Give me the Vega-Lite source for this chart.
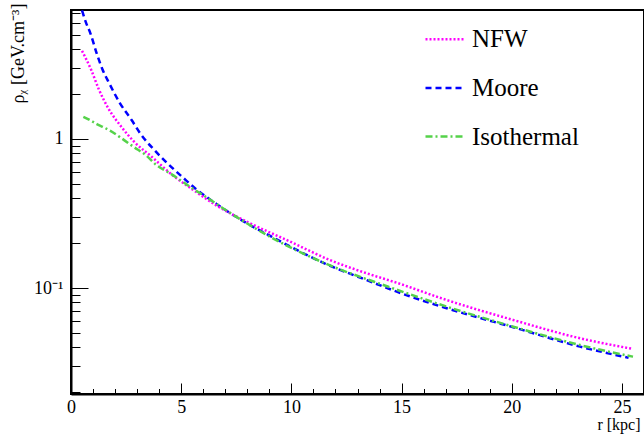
{
  "$schema": "https://vega.github.io/schema/vega-lite/v6.json",
  "autosize": "none",
  "width": 573,
  "height": 384,
  "padding": {"left": 71, "top": 10, "right": 0, "bottom": 41},
  "background": "white",
  "config": {
    "font": "Liberation Serif, Times New Roman, Times, serif",
    "view": {"stroke": "black", "strokeWidth": 2},
    "axis": {"grid": false, "tickColor": "black", "domainColor": "black", "labelColor": "black", "titleColor": "black", "labelFont": "Liberation Serif, Times New Roman, Times, serif", "titleFont": "Liberation Serif, Times New Roman, Times, serif", "titleFontWeight": "normal"},
    "legend": {"labelFont": "Liberation Serif, Times New Roman, Times, serif"}
  },
  "data": {"values": [
    {"model": "Moore", "r": 0.5, "rho": 7.3},
    {"model": "Moore", "r": 0.68, "rho": 6.04},
    {"model": "Moore", "r": 0.88, "rho": 5.12},
    {"model": "Moore", "r": 1.18, "rho": 3.7},
    {"model": "Moore", "r": 1.42, "rho": 2.95},
    {"model": "Moore", "r": 1.72, "rho": 2.39},
    {"model": "Moore", "r": 2.21, "rho": 1.75},
    {"model": "Moore", "r": 2.75, "rho": 1.34},
    {"model": "Moore", "r": 3.16, "rho": 1.08},
    {"model": "Moore", "r": 3.78, "rho": 0.844},
    {"model": "Moore", "r": 4.57, "rho": 0.645},
    {"model": "Moore", "r": 5.07, "rho": 0.553},
    {"model": "Moore", "r": 5.6, "rho": 0.471},
    {"model": "Moore", "r": 6.4, "rho": 0.384},
    {"model": "Moore", "r": 7.59, "rho": 0.294},
    {"model": "Moore", "r": 9.1, "rho": 0.221},
    {"model": "Moore", "r": 11.52, "rho": 0.146},
    {"model": "Moore", "r": 13.42, "rho": 0.113},
    {"model": "Moore", "r": 14.78, "rho": 0.0945},
    {"model": "Moore", "r": 17.05, "rho": 0.0731},
    {"model": "Moore", "r": 20.07, "rho": 0.0545},
    {"model": "Moore", "r": 23.1, "rho": 0.0404},
    {"model": "Moore", "r": 25.3, "rho": 0.034},
    {"model": "NFW", "r": 0.5, "rho": 3.9},
    {"model": "NFW", "r": 0.92, "rho": 2.9},
    {"model": "NFW", "r": 1.26, "rho": 2.16},
    {"model": "NFW", "r": 1.69, "rho": 1.61},
    {"model": "NFW", "r": 2.3, "rho": 1.2},
    {"model": "NFW", "r": 2.86, "rho": 0.96},
    {"model": "NFW", "r": 3.66, "rho": 0.76},
    {"model": "NFW", "r": 4.64, "rho": 0.567},
    {"model": "NFW", "r": 5.55, "rho": 0.455},
    {"model": "NFW", "r": 6.61, "rho": 0.357},
    {"model": "NFW", "r": 7.97, "rho": 0.279},
    {"model": "NFW", "r": 9.94, "rho": 0.205},
    {"model": "NFW", "r": 11.75, "rho": 0.154},
    {"model": "NFW", "r": 13.42, "rho": 0.1255},
    {"model": "NFW", "r": 14.85, "rho": 0.1076},
    {"model": "NFW", "r": 17.05, "rho": 0.083},
    {"model": "NFW", "r": 20.07, "rho": 0.061},
    {"model": "NFW", "r": 23.1, "rho": 0.046},
    {"model": "NFW", "r": 25.5, "rho": 0.039},
    {"model": "Isothermal", "r": 0.56, "rho": 1.41},
    {"model": "Isothermal", "r": 0.86, "rho": 1.34},
    {"model": "Isothermal", "r": 1.17, "rho": 1.26},
    {"model": "Isothermal", "r": 1.47, "rho": 1.2},
    {"model": "Isothermal", "r": 1.77, "rho": 1.137},
    {"model": "Isothermal", "r": 2.3, "rho": 1.01},
    {"model": "Isothermal", "r": 2.83, "rho": 0.888},
    {"model": "Isothermal", "r": 3.4, "rho": 0.778},
    {"model": "Isothermal", "r": 3.89, "rho": 0.666},
    {"model": "Isothermal", "r": 4.49, "rho": 0.589},
    {"model": "Isothermal", "r": 5.55, "rho": 0.462},
    {"model": "Isothermal", "r": 6.11, "rho": 0.41},
    {"model": "Isothermal", "r": 7.14, "rho": 0.325},
    {"model": "Isothermal", "r": 9.0, "rho": 0.222},
    {"model": "Isothermal", "r": 11.5, "rho": 0.147},
    {"model": "Isothermal", "r": 14.4, "rho": 0.102},
    {"model": "Isothermal", "r": 17.05, "rho": 0.075},
    {"model": "Isothermal", "r": 20.07, "rho": 0.055},
    {"model": "Isothermal", "r": 23.1, "rho": 0.0414},
    {"model": "Isothermal", "r": 25.5, "rho": 0.0346}
  ]},
  "layer": [
    {
      "mark": {"type": "line", "interpolate": "monotone", "strokeWidth": 2.5, "clip": true},
      "encoding": {
        "x": {"field": "r", "type": "quantitative",
          "scale": {"domain": [0, 26], "nice": false, "zero": false},
          "axis": {"orient": "bottom", "values": [0, 5, 10, 15, 20, 25], "labelFlush": false, "tickSize": -11, "labelPadding": 15, "labelFontSize": 18, "domainWidth": 2, "tickWidth": 1,
            "title": "r  [kpc]", "titleFontSize": 16, "titleAnchor": "end", "titleAlign": "right", "titleX": 569, "titleY": 30, "titleBaseline": "middle"}},
        "y": {"field": "rho", "type": "quantitative",
          "scale": {"type": "log", "domain": [0.01944, 7.34], "nice": false},
          "axis": {"orient": "left", "values": [0.1, 1], "labelFlush": false, "labelExpr": "datum.value == 1 ? '1' : '10⁻¹'", "tickSize": -17, "labelPadding": 25, "labelFontSize": 18, "domainWidth": 2, "tickWidth": 1,
            "title": "ρᵪ  [GeV.cm⁻³]", "titleFontSize": 18, "titleAngle": -90, "titleAlign": "right", "titleBaseline": "middle", "titleX": -53, "titleY": -7}},
        "color": {"field": "model", "type": "nominal",
          "scale": {"domain": ["NFW", "Moore", "Isothermal"], "range": ["#ff00ff", "#0000ff", "#55d24a"]},
          "legend": {"orient": "none", "legendX": 353, "legendY": 8.7, "title": null, "symbolType": "stroke", "symbolSize": 1444, "symbolStrokeWidth": 2.5, "labelFontSize": 25, "labelOffset": 7, "rowPadding": 14.7, "labelColor": "black"}},
        "strokeDash": {"field": "model", "type": "nominal",
          "scale": {"domain": ["NFW", "Moore", "Isothermal"], "range": [[2, 2], [6, 4], [7, 3, 2, 3]]},
          "legend": {"orient": "none", "legendX": 353, "legendY": 8.7, "title": null, "symbolType": "stroke", "symbolSize": 1444, "symbolStrokeWidth": 2.5, "labelFontSize": 25, "labelOffset": 7, "rowPadding": 14.7, "labelColor": "black"}}
      }
    },
    {
      "mark": {"type": "line", "opacity": 0},
      "encoding": {
        "x": {"field": "r", "type": "quantitative",
          "axis": {"orient": "bottom", "values": [1, 2, 3, 4, 6, 7, 8, 9, 11, 12, 13, 14, 16, 17, 18, 19, 21, 22, 23, 24], "tickSize": -5.5, "labels": false, "domain": false, "title": null, "tickWidth": 1}},
        "y": {"field": "rho", "type": "quantitative",
          "axis": {"orient": "left", "values": [0.02, 0.03, 0.04, 0.05, 0.06, 0.07, 0.08, 0.09, 0.2, 0.3, 0.4, 0.5, 0.6, 0.7, 0.8, 0.9, 2, 3, 4, 5, 6, 7], "tickSize": -9, "labels": false, "domain": false, "title": null, "tickWidth": 1}}
      }
    }
  ],
  "resolve": {"axis": {"x": "independent", "y": "independent"}}
}
